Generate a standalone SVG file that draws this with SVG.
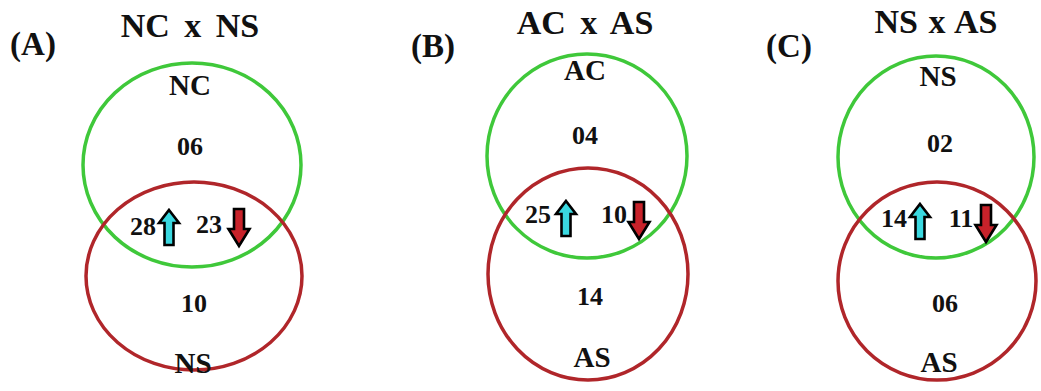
<svg xmlns="http://www.w3.org/2000/svg" width="1041" height="391" viewBox="0 0 1041 391">
<style>
text{font-family:"Liberation Serif","Times New Roman",serif;font-weight:bold;fill:#111;text-anchor:middle}
.title{font-size:34px;word-spacing:6px}
.panel{font-size:33px}
.lab{font-size:29px}
.num{font-size:26px}
.g{fill:none;stroke:#3fc83a;stroke-width:3.5}
.r{fill:none;stroke:#b0262a;stroke-width:3.5}
.up{fill:#3ad8e0;stroke:#000;stroke-width:2.6;stroke-linejoin:miter}
.dn{fill:#c8222a;stroke:#000;stroke-width:2.6;stroke-linejoin:miter}
</style>
<defs>
<path id="upA" class="up" d="M0,0 L10,13 L4.5,13 L4.5,35 L-4.5,35 L-4.5,13 L-10,13 Z"/>
<path id="dnA" class="dn" d="M-5,0 L5,0 L5,20 L10.5,20 L0,37 L-10.5,20 L-5,20 Z"/>
</defs>
<rect width="1041" height="391" fill="#fff"/>

<g id="panelA">
<text class="panel" x="33" y="55">(A)</text>
<text class="title" x="190" y="37">NC x NS</text>
<g id="A-NC"><ellipse class="g" cx="192" cy="165" rx="109" ry="102"/></g>
<g id="A-NS"><ellipse class="r" cx="194" cy="276" rx="108" ry="94"/></g>
<text class="lab" x="190" y="95">NC</text>
<text class="num" x="190" y="155">06</text>
<text class="num" x="143" y="235">28</text>
<use href="#upA" x="169" y="210"/>
<text class="num" x="209" y="233">23</text>
<use href="#dnA" x="239" y="209"/>
<text class="num" x="194" y="312">10</text>
<text class="lab" x="193" y="373">NS</text>
</g>

<g id="panelB">
<text class="panel" x="433" y="57">(B)</text>
<text class="title" x="585" y="34">AC x AS</text>
<g id="B-AC"><ellipse class="g" cx="587" cy="156" rx="100" ry="102"/></g>
<g id="B-AS"><ellipse class="r" cx="588" cy="274" rx="100" ry="106"/></g>
<text class="lab" x="585" y="80">AC</text>
<text class="num" x="585" y="144">04</text>
<text class="num" x="538" y="223">25</text>
<use href="#upA" x="566" y="201"/>
<text class="num" x="614" y="223">10</text>
<use href="#dnA" x="639" y="202"/>
<text class="num" x="590" y="305">14</text>
<text class="lab" x="592" y="367">AS</text>
</g>

<g id="panelC">
<text class="panel" x="789" y="57">(C)</text>
<text class="title" x="936" y="33" style="word-spacing:2px">NS x AS</text>
<g id="C-NS"><ellipse class="g" cx="936" cy="157" rx="98" ry="101"/></g>
<g id="C-AS"><ellipse class="r" cx="937" cy="281" rx="99" ry="99"/></g>
<text class="lab" x="938" y="86">NS</text>
<text class="num" x="940" y="152">02</text>
<text class="num" x="894" y="227">14</text>
<use href="#upA" x="920" y="204"/>
<text class="num" x="961" y="227">11</text>
<use href="#dnA" x="986" y="205"/>
<text class="num" x="945" y="312">06</text>
<text class="lab" x="939" y="372">AS</text>
</g>
<g id="connectors"/>
</svg>
